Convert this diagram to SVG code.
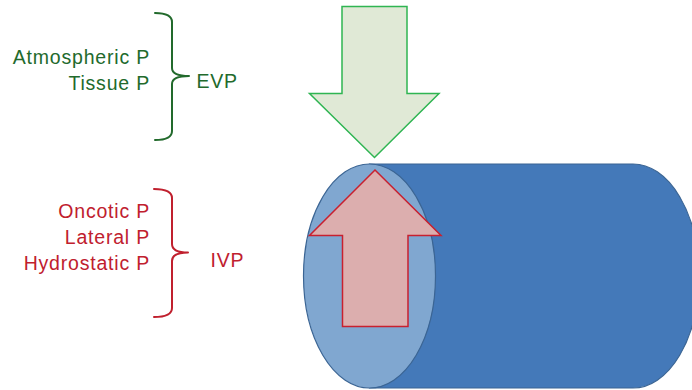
<svg xmlns="http://www.w3.org/2000/svg" width="692" height="390" viewBox="0 0 692 390">
  <style>
    .lbl { font-family: "Liberation Sans", Arial, sans-serif; font-size: 19.5px; letter-spacing: 0.8px; }
    .g { fill: #226a2c; }
    .r { fill: #c0202e; }
    .brace { fill: none; stroke-width: 2; stroke-linecap: round; stroke-linejoin: round; }
  </style>

  <!-- Vessel: cylinder lying on its side -->
  <g id="vessel">
    <path d="M369.5,164 H633 A66,112 0 0 1 633,388 H369.5 Z" fill="#4479b9" stroke="#3b6594" stroke-width="1.2"/>
    <ellipse cx="369.5" cy="276" rx="66" ry="112" fill="#80a7d0" stroke="#3b6594" stroke-width="1.2"/>
  </g>

  <!-- Extravascular pressure pressing down -->
  <g id="evp-arrow">
    <polygon points="342,6.5 407,6.5 407,93.5 439,93.5 374.5,157.5 309.5,93.5 342,93.5" fill="#e0e9d6" stroke="#2fb552" stroke-width="1.5"/>
  </g>

  <!-- Intravascular pressure pushing up -->
  <g id="ivp-arrow">
    <polygon points="375,170 441,235.5 408,235.5 408,326.5 342.5,326.5 342.5,235.5 309.5,235.5" fill="#dcaeae" stroke="#c8202f" stroke-width="1.5"/>
  </g>

  <!-- Extravascular group -->
  <g id="evp-group">
    <path class="brace" stroke="#226a2c" d="M155,13 Q172,13 172,22 V68 Q172,76 189,76 Q172,76 172,84 V131 Q172,140 155,140"/>
    <text class="lbl g" x="150" y="64" text-anchor="end">Atmospheric P</text>
    <text class="lbl g" x="150" y="89.5" text-anchor="end">Tissue P</text>
    <text class="lbl g" x="196.5" y="87.7">EVP</text>
  </g>

  <!-- Intravascular group -->
  <g id="ivp-group">
    <path class="brace" stroke="#c0202e" d="M154,189 Q172,189 172,198 V244 Q172,252.5 188,252.5 Q172,252.5 172,261 V308 Q172,317 154,317"/>
    <text class="lbl r" x="150" y="217.7" text-anchor="end">Oncotic P</text>
    <text class="lbl r" x="150" y="244" text-anchor="end">Lateral P</text>
    <text class="lbl r" x="150" y="270" text-anchor="end">Hydrostatic P</text>
    <text class="lbl r" x="210.5" y="266.7">IVP</text>
  </g>
</svg>
